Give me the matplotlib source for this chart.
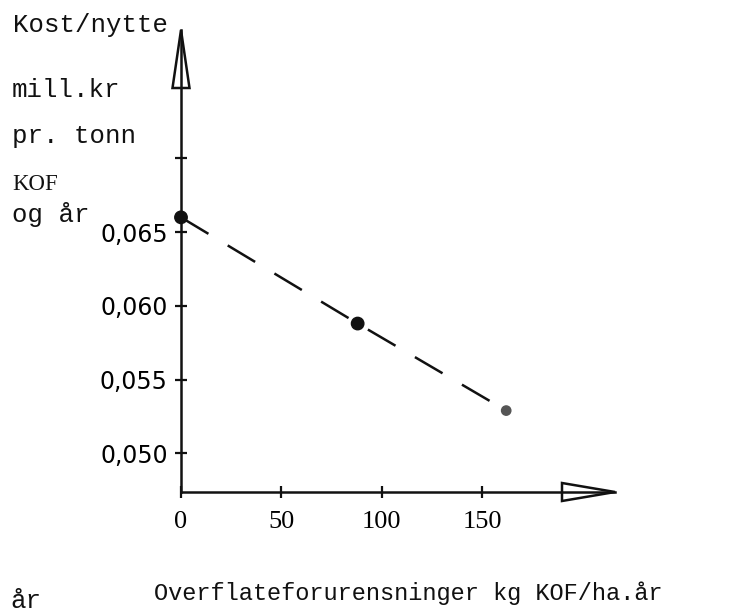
#Kost/nytte chart - recreated from a scanned typewritten figure
import matplotlib.pyplot as plt
from matplotlib.patches import Polygon

# values
x_vals = [0, 88, 162]
y_vals = [0.0660, 0.0588, 0.0529]
point_sizes = [80, 80, 45]
point_colors = ["#111111", "#111111", "#555555"]

x_ticks = [0, 50, 100, 150]
x_tick_labels = ["0", "50", "100", "150"]
y_ticks = [0.050, 0.055, 0.060, 0.065, 0.070]
y_tick_labels = ["0,050", "0,055", "0,060", "0,065", ""]

W, H = 732, 612
fig = plt.figure(figsize=(W / 100, H / 100), dpi=100)

# axes placed so the spines sit where the hand drawn axes are
ax = fig.add_axes([181 / W, (H - 492) / H, (615 - 181) / W, (492 - 30) / H])
x_max = 216.2
y_min, y_max = 0.04738, 0.0787
ax.set_xlim(0, x_max)
ax.set_ylim(y_min, y_max)
ax.patch.set_alpha(0)

for side in ["top", "right"]:
    ax.spines[side].set_visible(False)
for side in ["left", "bottom"]:
    ax.spines[side].set_linewidth(1.8)
    ax.spines[side].set_color("#111111")

ax.set_xticks(x_ticks)
ax.set_xticklabels(x_tick_labels, family="Liberation Serif", fontsize=19)
ax.set_yticks(y_ticks)
ax.set_yticklabels(y_tick_labels, family="DejaVu Sans", fontsize=17)
ax.tick_params(direction="inout", length=9, width=1.6, color="#111111")
ax.tick_params(axis="x", pad=9)
ax.tick_params(axis="y", pad=5)

# hollow arrow heads on both axes
px_x = (615 - 181) / x_max
px_y = (492 - 30) / (y_max - y_min)
y_head = Polygon([(-8.5 / px_x, y_max - 58 / px_y), (8.5 / px_x, y_max - 58 / px_y), (0, y_max)],
                 closed=True, fill=False, lw=1.8, ec="#111111", clip_on=False)
x_head = Polygon([(x_max - 53 / px_x, y_min - 9 / px_y), (x_max - 53 / px_x, y_min + 9 / px_y), (x_max, y_min)],
                 closed=True, fill=False, lw=1.8, ec="#111111", clip_on=False)
ax.add_patch(y_head)
ax.add_patch(x_head)

# dashed line and the three points
ax.plot(x_vals, y_vals, color="#111111", lw=1.8, linestyle=(0, (12.8, 9)), clip_on=False)
ax.scatter(x_vals, y_vals, s=point_sizes, c=point_colors, zorder=3, clip_on=False)

# typewritten labels to the left of the y axis
def put(txt, x, y, **kw):
    fig.text(x / W, 1 - y / H, txt, va="baseline", ha="left", color="#111111", **kw)

put("Kost/nytte", 13, 32, family="Liberation Mono", fontsize=18.5)
put("mill.kr", 12, 97, family="Liberation Mono", fontsize=18.5)
put("pr. tonn", 12, 143, family="Liberation Mono", fontsize=18.5)
put("KOF", 12, 190, family="Liberation Serif", fontsize=16.5)
put("og år", 12, 222, family="Liberation Mono", fontsize=18.5)

put("Overflateforurensninger kg KOF/ha.år", 154, 600, family="Liberation Mono", fontsize=17)
put("år", 10, 608, family="Liberation Mono", fontsize=18.5)

fig.savefig("out.png", dpi=100)
